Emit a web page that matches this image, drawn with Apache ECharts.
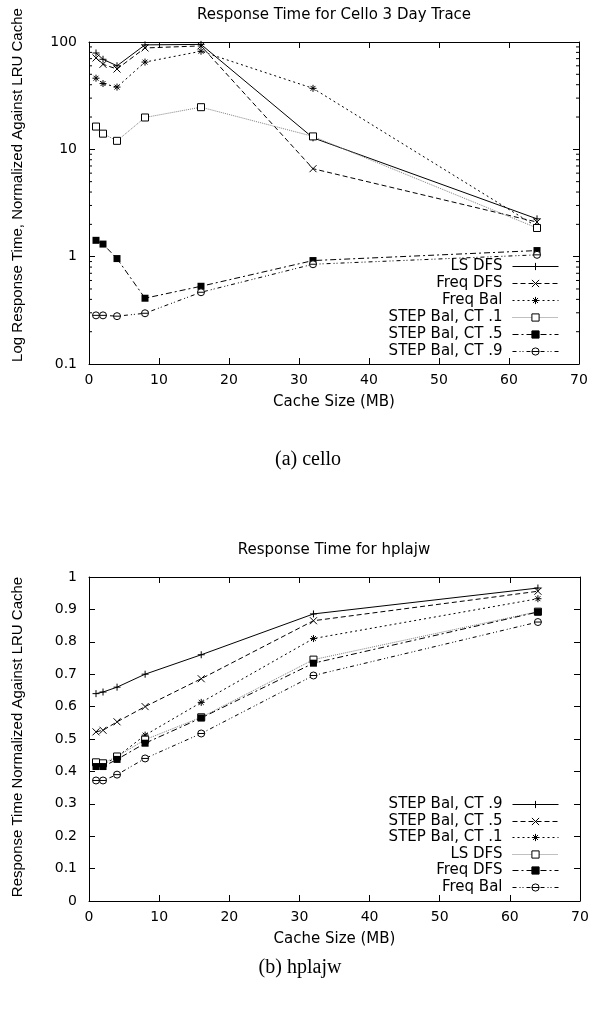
<!DOCTYPE html>
<html><head><meta charset="utf-8">
<script src="https://cdn.jsdelivr.net/npm/echarts@6/dist/echarts.min.js"></script>
<style>html,body{margin:0;padding:0;background:#fff}#c{width:602px;height:1014px}</style>
</head><body><div id="c"></div>
<script>
// ---------- data ----------
const cacheSizes = [1, 2, 4, 8, 16, 32, 64];

// (a) cello — log scale
const celloNames = ['LS DFS', 'Freq DFS', 'Freq Bal', 'STEP Bal, CT .1', 'STEP Bal, CT .5', 'STEP Bal, CT .9'];
const celloLsDfs   = [79, 69, 60, 94, 95, 12.8, 2.25];
const celloFreqDfs = [71, 62, 56, 88, 92, 6.6, 2.1];
const celloFreqBal = [46, 41, 38, 65, 82, 37, 1.9];
const celloCt1     = [16.3, 14, 12, 19.8, 24.7, 13.2, 1.85];
const celloCt5     = [1.42, 1.31, 0.96, 0.41, 0.53, 0.92, 1.14];
const celloCt9     = [0.284, 0.284, 0.279, 0.297, 0.466, 0.85, 1.04];

// (b) hplajw — linear scale
const hplajwNames = ['STEP Bal, CT .9', 'STEP Bal, CT .5', 'STEP Bal, CT .1', 'LS DFS', 'Freq DFS', 'Freq Bal'];
const hplajwCt9     = [0.64, 0.645, 0.66, 0.70, 0.76, 0.886, 0.966];
const hplajwCt5     = [0.522, 0.527, 0.553, 0.60, 0.686, 0.865, 0.956];
const hplajwCt1     = [0.42, 0.42, 0.445, 0.512, 0.613, 0.81, 0.933];
const hplajwLsDfs   = [0.428, 0.425, 0.446, 0.498, 0.567, 0.745, 0.893];
const hplajwFreqDfs = [0.415, 0.415, 0.437, 0.487, 0.565, 0.734, 0.892];
const hplajwFreqBal = [0.372, 0.372, 0.39, 0.44, 0.517, 0.696, 0.861];

// tick values
const logMinorTicks = [0.2,0.3,0.4,0.5,0.6,0.7,0.8,0.9, 2,3,4,5,6,7,8,9, 20,30,40,50,60,70,80,90];

const celloSeries = [celloLsDfs, celloFreqDfs, celloFreqBal, celloCt1, celloCt5, celloCt9];
const hplajwSeries = [hplajwCt9, hplajwCt5, hplajwCt1, hplajwLsDfs, hplajwFreqDfs, hplajwFreqBal];

// ---------- styles ----------
const SANS = 'DejaVu Sans';
const SYM = [
  'path://M0,5L10,5M5,0L5,10',
  'path://M0,0L10,10M10,0L0,10',
  'path://M0,5L10,5M5,0L5,10M1.5,1.5L8.5,8.5M8.5,1.5L1.5,8.5',
  'rect', 'rect',
  'path://M0,5A5,5 0 1,1 10,5A5,5 0 1,1 0,5ZM0,5L10,5'
];
const SIZE = [7, 7, 7, 7, 7, 7];
const ITEM = [
  {color:'#000', borderColor:'#000', borderWidth:1},
  {color:'#000', borderColor:'#000', borderWidth:1},
  {color:'#000', borderColor:'#000', borderWidth:1},
  {color:'#fff', borderColor:'#000', borderWidth:1},
  {color:'#000', borderColor:'#000', borderWidth:0},
  {color:'#fff', borderColor:'#000', borderWidth:1}
];
const LINECOL = ['#000', '#000', '#000', '#808080', '#000', '#000'];
const DASH = ['solid', [5,3], [2,3], [1,1], [6,3,2,3], [4,3,1,2,1,3]];

function mk(name, values, k, g) {
  return {
    type: 'line', name: name, xAxisIndex: g*2, yAxisIndex: g*2,
    data: cacheSizes.map((x, i) => [x, values[i]]),
    symbol: SYM[k], symbolSize: SIZE[k], showSymbol: true,
    lineStyle: {color: LINECOL[k], width: 1, type: DASH[k]},
    itemStyle: ITEM[k], animation: false, z: 3
  };
}

const series = [];
celloNames.forEach((n, k) => series.push(mk(n, celloSeries[k], k, 0)));
hplajwNames.forEach((n, k) => series.push(mk('h:' + n, hplajwSeries[k], k, 1)));

// minor log ticks on both sides of the cello plot
series.push({
  type: 'custom', xAxisIndex: 0, yAxisIndex: 0, silent: true, clip: false, animation: false,
  data: logMinorTicks.map(v => [0, v]),
  renderItem: function (p, api) {
    const v = api.value(1);
    const l = api.coord([0, v]);
    const r = api.coord([70, v]);
    return {type: 'group', children: [
      {type: 'line', shape: {x1: l[0], y1: l[1], x2: l[0] + 3, y2: l[1]}, style: {stroke: '#000', lineWidth: 1}},
      {type: 'line', shape: {x1: r[0] - 3, y1: r[1], x2: r[0], y2: r[1]}, style: {stroke: '#000', lineWidth: 1}}
    ]};
  }
});

const axLine = {show: true, onZero: false, lineStyle: {color: '#000', width: 1}};
const axTick = {show: true, inside: true, length: 6, lineStyle: {color: '#000'}};
const lab = {color: '#000', fontFamily: SANS, fontSize: 14};

function xAxes(g) {
  return [
    {type: 'value', gridIndex: g, min: 0, max: 70, interval: 10, position: 'bottom',
     axisLine: axLine, axisTick: axTick, splitLine: {show: false},
     axisLabel: Object.assign({margin: 9}, lab),
     name: 'Cache Size (MB)', nameLocation: 'middle', nameGap: 31,
     nameTextStyle: {color: '#000', fontFamily: SANS, fontSize: 15}},
    {type: 'value', gridIndex: g, min: 0, max: 70, interval: 10, position: 'top',
     axisLine: axLine, axisTick: axTick, splitLine: {show: false}, axisLabel: {show: false}}
  ];
}

const yAxes = [
  {type: 'log', logBase: 10, gridIndex: 0, min: 0.1, max: 100, position: 'left',
   axisLine: axLine, axisTick: axTick, splitLine: {show: false},
   axisLabel: Object.assign({margin: 12}, lab)},
  {type: 'log', logBase: 10, gridIndex: 0, min: 0.1, max: 100, position: 'right',
   axisLine: axLine, axisTick: axTick, splitLine: {show: false}, axisLabel: {show: false}},
  {type: 'value', gridIndex: 1, min: 0, max: 1, interval: 0.1, position: 'left',
   axisLine: axLine, axisTick: axTick, splitLine: {show: false},
   axisLabel: Object.assign({margin: 12}, lab)},
  {type: 'value', gridIndex: 1, min: 0, max: 1, interval: 0.1, position: 'right',
   axisLine: axLine, axisTick: axTick, splitLine: {show: false}, axisLabel: {show: false}}
];

// legends: one per entry so that entries are right-aligned like the reference
const legends = [];
const legTopA = [265, 282, 299, 316, 333, 350];
const legTopB = [803, 820, 836, 853, 869, 886];
function addLegend(name, cy) {
  legends.push({
    data: [name], right: 43, top: cy - 6, orient: 'horizontal', align: 'right',
    padding: 0, itemWidth: 46, itemHeight: 9, selectedMode: false,
    formatter: n => n.replace(/^h:/, ''),
    lineStyle: {width: 1},
    itemStyle: {borderWidth: 1},
    textStyle: {color: '#000', fontFamily: SANS, fontSize: 15, padding: [0, 5, 0, 0]}
  });
}
celloNames.forEach((n, k) => addLegend(n, legTopA[k]));
hplajwNames.forEach((n, k) => addLegend('h:' + n, legTopB[k]));

const txt = (x, y, text, size, family, rot) => ({
  type: 'text', x: x, y: y, rotation: rot || 0, silent: true,
  style: {text: text, fontSize: size, fontFamily: family, fill: '#000', align: 'center', verticalAlign: 'middle'}
});

const option = {
  backgroundColor: '#fff',
  animation: false,
  grid: [
    {left: 89, top: 42, width: 490, height: 322},
    {left: 89, top: 577, width: 491, height: 324}
  ],
  xAxis: xAxes(0).concat(xAxes(1)),
  yAxis: yAxes,
  legend: legends,
  series: series,
  graphic: [
    txt(334, 15, 'Response Time for Cello 3 Day Trace', 15, SANS),
    txt(334, 550, 'Response Time for hplajw', 15, SANS),
    txt(18, 185, 'Log Response Time, Normalized Against LRU Cache', 15, 'Liberation Sans', Math.PI / 2),
    txt(18, 737, 'Response Time Normalized Against LRU Cache', 15, 'Liberation Sans', Math.PI / 2),
    txt(308, 460, '(a) cello', 20, 'Liberation Serif'),
    txt(300, 968, '(b) hplajw', 20, 'Liberation Serif')
  ]
};

const chart = echarts.init(document.getElementById('c'), null, {renderer: 'canvas'});
chart.setOption(option);
</script>
</body></html>
